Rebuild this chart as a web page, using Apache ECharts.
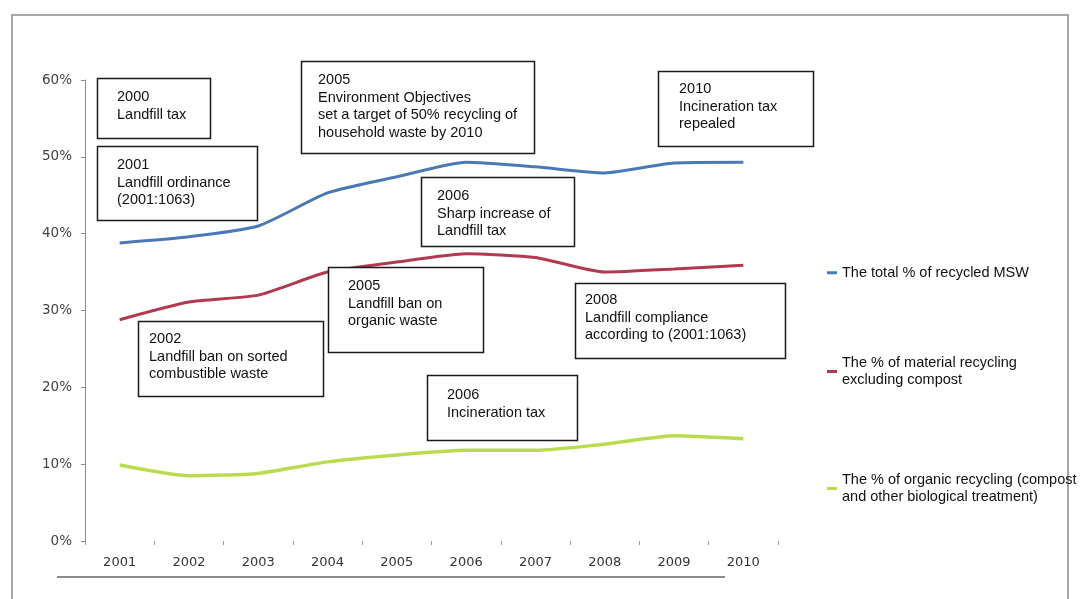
<!DOCTYPE html>
<html>
<head>
<meta charset="utf-8">
<script src="https://cdn.jsdelivr.net/npm/echarts@6/dist/echarts.min.js"></script>
<style>html,body{margin:0;padding:0;background:#fff}#c{width:1081px;height:599px}</style>
</head>
<body>
<div id="c"></div>
<script>
// ---- data ----
const years = ['2001','2002','2003','2004','2005','2006','2007','2008','2009','2010'];
const totalRecycled = [38.8, 39.6, 41.0, 45.3, 47.4, 49.3, 48.7, 47.9, 49.2, 49.3];
const materialRecycling = [28.8, 31.1, 32.0, 35.0, 36.3, 37.4, 36.9, 35.0, 35.4, 35.9];
const organicRecycling = [9.9, 8.5, 8.8, 10.3, 11.2, 11.8, 11.8, 12.6, 13.7, 13.3];
const seriesNames = [
  'The total % of recycled MSW',
  'The % of material recycling excluding compost',
  'The % of organic recycling (compost and other biological treatment)'
];
const legendLabels = [
  'The total % of recycled MSW',
  'The % of material recycling\nexcluding compost',
  'The % of organic recycling (compost\nand other biological treatment)'
];
const yTicks = [0, 10, 20, 30, 40, 50, 60];
const noteTexts = [
  '2000\nLandfill tax',
  '2001\nLandfill ordinance\n(2001:1063)',
  '2005\nEnvironment Objectives\nset a target of 50% recycling of\nhousehold waste by 2010',
  '2010\nIncineration tax\nrepealed',
  '2006\nSharp increase of\nLandfill tax',
  '2002\nLandfill ban on sorted\ncombustible waste',
  '2005\nLandfill ban on\norganic waste',
  '2008\nLandfill compliance\naccording to (2001:1063)',
  '2006\nIncineration tax'
];

// ---- layout (positions of annotation boxes) ----
const noteBoxes = [
  [97, 78, 113, 60, 117, 97],
  [97, 146, 160, 74, 117, 165],
  [301, 61, 233, 92, 318, 80],
  [658, 71, 155, 75, 679, 89],
  [421, 177, 153, 69, 437, 196],
  [138, 321, 185, 75, 149, 339],
  [328, 267, 155, 85, 348, 286],
  [575, 283, 210, 75, 585, 300],
  [427, 375, 150, 65, 447, 395]
];
const colors = ['#4a79b5', '#b23a50', '#b9dc4e'];
const FONT = '14.5px "Liberation Sans", Arial, sans-serif';
const LH = 17.5;

const graphics = [];
graphics.push({type:'rect', silent:true, z:0, shape:{x:12,y:15,width:1056,height:620}, style:{fill:'none', stroke:'#a8a8a8', lineWidth:2}});
graphics.push({type:'line', silent:true, z:0, shape:{x1:57,y1:577,x2:725,y2:577}, style:{stroke:'#8c8c8c', lineWidth:2}});
noteBoxes.forEach((b, i) => {
  graphics.push({type:'rect', z:100, shape:{x:b[0]+0.5,y:b[1]+0.5,width:b[2],height:b[3]}, style:{fill:'#fff', stroke:'#1a1a1a', lineWidth:1.5}});
  graphics.push({type:'text', z:101, style:{x:b[4], y:b[5]-LH/2, text:noteTexts[i], font:FONT, lineHeight:LH, fill:'#111', verticalAlign:'top', align:'left'}});
});

const legendPos = [[827, 264], [827, 354], [827, 471]];
const legends = seriesNames.map((n, i) => ({
  data: [n],
  left: legendPos[i][0], top: legendPos[i][1],
  padding: 0,
  orient: 'vertical',
  icon: 'rect', itemWidth: 10, itemHeight: 3,
  selectedMode: false,
  formatter: () => legendLabels[i],
  textStyle: {fontFamily:'"Liberation Sans", Arial, sans-serif', fontSize:14.5, color:'#111', lineHeight:17.5}
}));

const chart = echarts.init(document.getElementById('c'));
chart.setOption({
  animation: false,
  color: colors,
  grid: {left: 85, right: 303, top: 80, bottom: 58, containLabel: false},
  legend: legends,
  xAxis: {
    type: 'category', data: years, boundaryGap: true,
    axisLine: {show: false},
    axisTick: {show: true, length: 4, lineStyle: {color: '#999'}},
    axisLabel: {margin: 15, fontFamily: '"DejaVu Sans", Verdana, sans-serif', fontSize: 13, color: '#333'}
  },
  yAxis: {
    type: 'value', min: 0, max: 60, interval: 10,
    axisLine: {show: true, lineStyle: {color: '#8a8a8a', width: 1}},
    axisTick: {show: true, length: 4, lineStyle: {color: '#8a8a8a'}},
    splitLine: {show: false},
    axisLabel: {margin: 13, fontFamily: '"DejaVu Sans", Verdana, sans-serif', fontSize: 13.5, color: '#444',
      formatter: v => (yTicks.indexOf(v) >= 0 ? v + '%' : '')}
  },
  series: [
    {name: seriesNames[0], type: 'line', data: totalRecycled, symbol: 'none', smooth: 0.2, lineStyle: {width: 3, color: colors[0]}, z: 3},
    {name: seriesNames[1], type: 'line', data: materialRecycling, symbol: 'none', smooth: 0.2, lineStyle: {width: 3, color: colors[1]}, z: 3},
    {name: seriesNames[2], type: 'line', data: organicRecycling, symbol: 'none', smooth: 0.2, lineStyle: {width: 3.5, color: colors[2]}, z: 3}
  ],
  graphic: graphics
});
</script>
</body>
</html>
